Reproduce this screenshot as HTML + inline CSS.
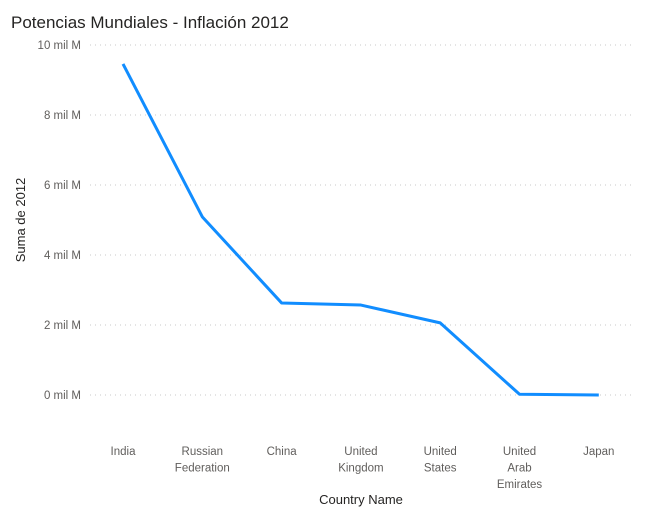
<!DOCTYPE html>
<html><head><meta charset="utf-8"><style>
body{margin:0;background:#fff;font-family:"Liberation Sans",sans-serif}
svg{display:block}
</style></head><body>
<svg id="chart" width="654" height="525">
<text x="11" y="28" font-size="17" fill="#252423">Potencias Mundiales - Inflación 2012</text>
<text transform="translate(25,220) rotate(-90)" text-anchor="middle" font-size="13" fill="#252423">Suma de 2012</text>
<text x="361" y="504" text-anchor="middle" font-size="13" fill="#252423">Country Name</text>
<g id="grid"></g><g id="xlabels"></g><g id="series"></g>
</svg>
<script>
const categories=[["India"],["Russian","Federation"],["China"],["United","Kingdom"],["United","States"],["United","Arab","Emirates"],["Japan"]];
const values=[9.46,5.09,2.63,2.57,2.06,0.02,0.0];
const yTicks=[0,2,4,6,8,10];
const yTickLabels=["0 mil M","2 mil M","4 mil M","6 mil M","8 mil M","10 mil M"];
const NS="http://www.w3.org/2000/svg";
const x0=123,step=79.3,yBase=395,yScale=35;
const xs=i=>x0+i*step, ys=v=>yBase-v*yScale;
const grid=document.getElementById('grid');
yTicks.forEach((t,i)=>{
 const l=document.createElementNS(NS,'line');
 l.setAttribute('x1',90);l.setAttribute('x2',632);l.setAttribute('y1',ys(t));l.setAttribute('y2',ys(t));
 l.setAttribute('stroke','#c8c8c8');l.setAttribute('stroke-dasharray','1,4');
 
 
 grid.appendChild(l);
 const tx=document.createElementNS(NS,'text');
 tx.setAttribute('x',81);tx.setAttribute('y',ys(t)+4);tx.setAttribute('text-anchor','end');
 tx.setAttribute('font-size','11.5');tx.setAttribute('fill','#605e5c');
 tx.textContent=yTickLabels[i];
 
 
 grid.appendChild(tx);
});
const xl=document.getElementById('xlabels');
categories.forEach((c,i)=>{
 const tx=document.createElementNS(NS,'text');
 tx.setAttribute('text-anchor','middle');tx.setAttribute('font-size','11.5');tx.setAttribute('fill','#605e5c');
 c.forEach((w,j)=>{const s=document.createElementNS(NS,'tspan');s.setAttribute('x',xs(i));s.setAttribute('y',455+j*16.5);s.textContent=w;tx.appendChild(s);});
 
 
 xl.appendChild(tx);
});
const p=document.createElementNS(NS,'polyline');
p.setAttribute('points',values.map((v,i)=>xs(i)+','+ys(v)).join(' '));
p.setAttribute('fill','none');p.setAttribute('stroke','#118dff');p.setAttribute('stroke-width','3');p.setAttribute('stroke-linejoin','round');


document.getElementById('series').appendChild(p);
</script>
</body></html>
